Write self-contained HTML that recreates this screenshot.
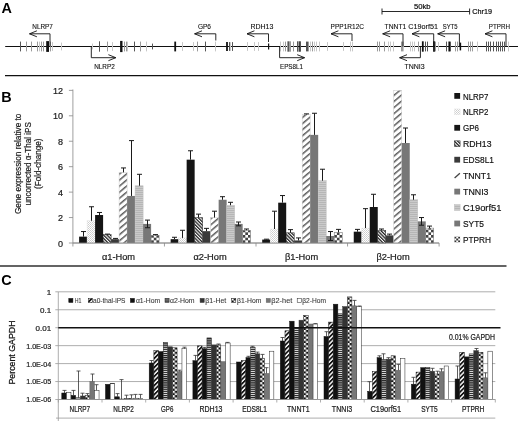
<!DOCTYPE html>
<html><head><meta charset="utf-8"><title>Figure</title>
<style>html,body{margin:0;padding:0;background:#fff}svg{display:block}</style></head>
<body>
<svg width="520" height="421" viewBox="0 0 520 421" font-family="&quot;Liberation Sans&quot;, Arial, sans-serif">
<defs>
<pattern id="pDot" width="2" height="2" patternUnits="userSpaceOnUse"><rect width="2" height="2" fill="#fff"/><rect x="0" y="0" width="1" height="1" fill="#cdcdcd"/><rect x="1" y="1" width="1" height="1" fill="#d6d6d6"/></pattern>
<pattern id="pDense" width="2.4" height="2.4" patternUnits="userSpaceOnUse" patternTransform="rotate(-45)"><rect width="2.4" height="2.4" fill="#fff"/><rect width="1.3" height="2.4" fill="#222"/></pattern>
<pattern id="pWide" width="4.65" height="4.65" patternUnits="userSpaceOnUse" patternTransform="rotate(-40)"><rect width="4.65" height="4.65" fill="#fff"/><rect width="4.65" height="1.5" fill="#5c5c5c"/></pattern>
<pattern id="pWideC" width="3.2" height="3.2" patternUnits="userSpaceOnUse" patternTransform="rotate(-45)"><rect width="3.2" height="3.2" fill="#fff"/><rect width="3.2" height="1.75" fill="#111"/></pattern>
<pattern id="pHzL" width="4" height="2" patternUnits="userSpaceOnUse"><rect width="4" height="2" fill="#cacaca"/><rect width="4" height="1" fill="#b6b6b6"/></pattern>
<pattern id="pHzD" width="4" height="2.1" y="0.1" patternUnits="userSpaceOnUse"><rect width="4" height="2.1" fill="#e4e4e4"/><rect width="4" height="1.25" fill="#1c1c1c"/></pattern>
</defs>
<rect width="520" height="421" fill="#fff"/>
<text x="1.40" y="12.70" font-size="14.4" text-anchor="start" fill="#000" font-weight="bold" >A</text>
<line x1="5.20" y1="46.50" x2="518.00" y2="46.50" stroke="#111" stroke-width="1.2" />
<line x1="5.00" y1="75.60" x2="518.00" y2="75.60" stroke="#111" stroke-width="1.2" />
<line x1="20.50" y1="41.60" x2="20.50" y2="51.40" stroke="#555" stroke-width="1" />
<line x1="26.50" y1="41.60" x2="26.50" y2="51.40" stroke="#9a9a9a" stroke-width="1" />
<line x1="31.50" y1="41.60" x2="31.50" y2="51.40" stroke="#9a9a9a" stroke-width="1" />
<line x1="37.50" y1="41.60" x2="37.50" y2="51.40" stroke="#9a9a9a" stroke-width="1" />
<line x1="39.50" y1="41.60" x2="39.50" y2="51.40" stroke="#c8c8c8" stroke-width="1" />
<line x1="41.50" y1="41.60" x2="41.50" y2="51.40" stroke="#9a9a9a" stroke-width="1" />
<line x1="43.50" y1="41.60" x2="43.50" y2="51.40" stroke="#9a9a9a" stroke-width="1" />
<line x1="47.60" y1="41.10" x2="47.60" y2="51.90" stroke="#111" stroke-width="2.8" />
<line x1="50.50" y1="41.60" x2="50.50" y2="51.40" stroke="#9a9a9a" stroke-width="1" />
<line x1="52.50" y1="42.10" x2="52.50" y2="50.90" stroke="#c8c8c8" stroke-width="1" />
<line x1="61.50" y1="42.60" x2="61.50" y2="50.40" stroke="#c8c8c8" stroke-width="1" />
<line x1="92.50" y1="43.60" x2="92.50" y2="49.40" stroke="#c8c8c8" stroke-width="1" />
<line x1="99.50" y1="41.30" x2="99.50" y2="51.70" stroke="#555" stroke-width="1" />
<line x1="107.50" y1="41.60" x2="107.50" y2="51.40" stroke="#9a9a9a" stroke-width="1" />
<line x1="112.50" y1="42.10" x2="112.50" y2="50.90" stroke="#c8c8c8" stroke-width="1" />
<line x1="121.30" y1="40.90" x2="121.30" y2="52.10" stroke="#111" stroke-width="2.4" />
<line x1="124.50" y1="41.60" x2="124.50" y2="51.40" stroke="#9a9a9a" stroke-width="1" />
<line x1="126.50" y1="41.60" x2="126.50" y2="51.40" stroke="#9a9a9a" stroke-width="1" />
<line x1="127.50" y1="41.60" x2="127.50" y2="51.40" stroke="#c8c8c8" stroke-width="1" />
<line x1="134.50" y1="41.60" x2="134.50" y2="51.40" stroke="#555" stroke-width="1" />
<line x1="140.50" y1="41.60" x2="140.50" y2="51.40" stroke="#9a9a9a" stroke-width="1" />
<line x1="146.50" y1="41.60" x2="146.50" y2="51.40" stroke="#c8c8c8" stroke-width="1" />
<line x1="152.50" y1="43.60" x2="152.50" y2="49.40" stroke="#555" stroke-width="1" />
<line x1="175.20" y1="41.60" x2="175.20" y2="51.40" stroke="#111" stroke-width="1.8" />
<line x1="182.50" y1="42.10" x2="182.50" y2="50.90" stroke="#c8c8c8" stroke-width="1" />
<line x1="193.50" y1="42.10" x2="193.50" y2="50.90" stroke="#c8c8c8" stroke-width="1" />
<line x1="197.50" y1="41.60" x2="197.50" y2="51.40" stroke="#9a9a9a" stroke-width="1" />
<line x1="205.50" y1="41.60" x2="205.50" y2="51.40" stroke="#555" stroke-width="1" />
<line x1="215.50" y1="41.60" x2="215.50" y2="51.40" stroke="#c8c8c8" stroke-width="1" />
<line x1="227.00" y1="41.90" x2="227.00" y2="51.10" stroke="#111" stroke-width="1.8" />
<line x1="229.50" y1="42.10" x2="229.50" y2="50.90" stroke="#555" stroke-width="1" />
<line x1="230.50" y1="42.10" x2="230.50" y2="50.90" stroke="#c8c8c8" stroke-width="1" />
<line x1="232.50" y1="42.10" x2="232.50" y2="50.90" stroke="#555" stroke-width="1" />
<line x1="247.50" y1="42.10" x2="247.50" y2="50.90" stroke="#c8c8c8" stroke-width="1" />
<line x1="254.50" y1="42.10" x2="254.50" y2="50.90" stroke="#c8c8c8" stroke-width="1" />
<line x1="258.50" y1="42.10" x2="258.50" y2="50.90" stroke="#c8c8c8" stroke-width="1" />
<line x1="268.60" y1="43.60" x2="268.60" y2="49.40" stroke="#111" stroke-width="1.2" />
<line x1="280.50" y1="41.60" x2="280.50" y2="51.40" stroke="#c8c8c8" stroke-width="1" />
<line x1="283.50" y1="41.60" x2="283.50" y2="51.40" stroke="#c8c8c8" stroke-width="1" />
<line x1="285.50" y1="41.60" x2="285.50" y2="51.40" stroke="#9a9a9a" stroke-width="1" />
<line x1="287.50" y1="41.30" x2="287.50" y2="51.70" stroke="#9a9a9a" stroke-width="1" />
<line x1="288.50" y1="41.30" x2="288.50" y2="51.70" stroke="#555" stroke-width="1" />
<line x1="289.50" y1="41.30" x2="289.50" y2="51.70" stroke="#9a9a9a" stroke-width="1" />
<line x1="290.50" y1="41.30" x2="290.50" y2="51.70" stroke="#9a9a9a" stroke-width="1" />
<line x1="293.50" y1="41.60" x2="293.50" y2="51.40" stroke="#9a9a9a" stroke-width="1" />
<line x1="297.50" y1="41.30" x2="297.50" y2="51.70" stroke="#555" stroke-width="1" />
<line x1="299.20" y1="41.30" x2="299.20" y2="51.70" stroke="#111" stroke-width="1.2" />
<line x1="300.50" y1="41.30" x2="300.50" y2="51.70" stroke="#555" stroke-width="1" />
<line x1="306.50" y1="41.60" x2="306.50" y2="51.40" stroke="#555" stroke-width="1" />
<line x1="307.50" y1="41.60" x2="307.50" y2="51.40" stroke="#555" stroke-width="1" />
<line x1="308.50" y1="41.60" x2="308.50" y2="51.40" stroke="#9a9a9a" stroke-width="1" />
<line x1="310.50" y1="41.60" x2="310.50" y2="51.40" stroke="#c8c8c8" stroke-width="1" />
<line x1="312.50" y1="41.60" x2="312.50" y2="51.40" stroke="#9a9a9a" stroke-width="1" />
<line x1="314.50" y1="41.60" x2="314.50" y2="51.40" stroke="#c8c8c8" stroke-width="1" />
<line x1="316.50" y1="41.60" x2="316.50" y2="51.40" stroke="#c8c8c8" stroke-width="1" />
<line x1="319.50" y1="41.60" x2="319.50" y2="51.40" stroke="#c8c8c8" stroke-width="1" />
<line x1="327.50" y1="42.10" x2="327.50" y2="50.90" stroke="#c8c8c8" stroke-width="1" />
<line x1="343.50" y1="42.10" x2="343.50" y2="50.90" stroke="#c8c8c8" stroke-width="1" />
<line x1="350.50" y1="41.60" x2="350.50" y2="51.40" stroke="#c8c8c8" stroke-width="1" />
<line x1="352.50" y1="41.60" x2="352.50" y2="51.40" stroke="#c8c8c8" stroke-width="1" />
<line x1="377.50" y1="41.60" x2="377.50" y2="51.40" stroke="#9a9a9a" stroke-width="1" />
<line x1="379.50" y1="41.60" x2="379.50" y2="51.40" stroke="#9a9a9a" stroke-width="1" />
<line x1="384.50" y1="41.60" x2="384.50" y2="51.40" stroke="#9a9a9a" stroke-width="1" />
<line x1="388.50" y1="41.60" x2="388.50" y2="51.40" stroke="#c8c8c8" stroke-width="1" />
<line x1="390.50" y1="41.60" x2="390.50" y2="51.40" stroke="#c8c8c8" stroke-width="1" />
<line x1="393.50" y1="41.60" x2="393.50" y2="51.40" stroke="#c8c8c8" stroke-width="1" />
<line x1="401.50" y1="41.60" x2="401.50" y2="51.40" stroke="#9a9a9a" stroke-width="1" />
<line x1="402.50" y1="41.60" x2="402.50" y2="51.40" stroke="#9a9a9a" stroke-width="1" />
<line x1="403.50" y1="41.60" x2="403.50" y2="51.40" stroke="#c8c8c8" stroke-width="1" />
<line x1="410.50" y1="41.60" x2="410.50" y2="51.40" stroke="#c8c8c8" stroke-width="1" />
<line x1="412.50" y1="41.60" x2="412.50" y2="51.40" stroke="#c8c8c8" stroke-width="1" />
<line x1="414.50" y1="41.60" x2="414.50" y2="51.40" stroke="#c8c8c8" stroke-width="1" />
<line x1="418.50" y1="41.60" x2="418.50" y2="51.40" stroke="#9a9a9a" stroke-width="1" />
<line x1="422.80" y1="41.30" x2="422.80" y2="51.70" stroke="#111" stroke-width="1.8" />
<line x1="425.50" y1="41.60" x2="425.50" y2="51.40" stroke="#555" stroke-width="1" />
<line x1="427.50" y1="41.60" x2="427.50" y2="51.40" stroke="#555" stroke-width="1" />
<line x1="434.00" y1="41.30" x2="434.00" y2="51.70" stroke="#111" stroke-width="1.8" />
<line x1="435.50" y1="41.60" x2="435.50" y2="51.40" stroke="#9a9a9a" stroke-width="1" />
<line x1="438.50" y1="42.10" x2="438.50" y2="50.90" stroke="#c8c8c8" stroke-width="1" />
<line x1="446.50" y1="41.60" x2="446.50" y2="51.40" stroke="#555" stroke-width="1" />
<line x1="449.20" y1="41.60" x2="449.20" y2="51.40" stroke="#111" stroke-width="1.6" />
<line x1="450.50" y1="41.60" x2="450.50" y2="51.40" stroke="#555" stroke-width="1" />
<line x1="455.50" y1="41.60" x2="455.50" y2="51.40" stroke="#9a9a9a" stroke-width="1" />
<line x1="457.50" y1="41.60" x2="457.50" y2="51.40" stroke="#9a9a9a" stroke-width="1" />
<line x1="460.40" y1="42.60" x2="460.40" y2="50.40" stroke="#111" stroke-width="1.5" />
<line x1="468.50" y1="41.60" x2="468.50" y2="51.40" stroke="#9a9a9a" stroke-width="1" />
<line x1="470.50" y1="41.60" x2="470.50" y2="51.40" stroke="#9a9a9a" stroke-width="1" />
<line x1="472.50" y1="41.60" x2="472.50" y2="51.40" stroke="#9a9a9a" stroke-width="1" />
<line x1="477.50" y1="41.60" x2="477.50" y2="51.40" stroke="#c8c8c8" stroke-width="1" />
<line x1="486.50" y1="41.60" x2="486.50" y2="51.40" stroke="#555" stroke-width="1" />
<line x1="488.50" y1="41.60" x2="488.50" y2="51.40" stroke="#555" stroke-width="1" />
<line x1="490.50" y1="41.60" x2="490.50" y2="51.40" stroke="#555" stroke-width="1" />
<line x1="493.50" y1="41.60" x2="493.50" y2="51.40" stroke="#555" stroke-width="1" />
<line x1="496.50" y1="41.60" x2="496.50" y2="51.40" stroke="#555" stroke-width="1" />
<line x1="498.50" y1="41.60" x2="498.50" y2="51.40" stroke="#555" stroke-width="1" />
<line x1="500.50" y1="41.60" x2="500.50" y2="51.40" stroke="#555" stroke-width="1" />
<line x1="502.50" y1="41.60" x2="502.50" y2="51.40" stroke="#555" stroke-width="1" />
<line x1="504.50" y1="41.60" x2="504.50" y2="51.40" stroke="#555" stroke-width="1" />
<line x1="508.50" y1="41.60" x2="508.50" y2="51.40" stroke="#c8c8c8" stroke-width="1" />
<path d="M50.0 46.5V33.8H29.5M36.9 30.8L29.5 33.8L36.9 36.8" fill="none" stroke="#111" stroke-width="0.9"/>
<text x="32.30" y="29.20" font-size="7.9" text-anchor="start" fill="#111" textLength="20.60" lengthAdjust="spacingAndGlyphs" stroke="#111" stroke-width="0.12" >NLRP7</text>
<path d="M91.3 46.5V57.7H115.8M108.4 54.7L115.8 57.7L108.4 60.7" fill="none" stroke="#111" stroke-width="0.9"/>
<text x="94.20" y="69.30" font-size="7.9" text-anchor="start" fill="#111" textLength="20.60" lengthAdjust="spacingAndGlyphs" stroke="#111" stroke-width="0.12" >NLRP2</text>
<path d="M215.8 40.5V33.8H194.6M202.0 30.8L194.6 33.8L202.0 36.8" fill="none" stroke="#111" stroke-width="0.9"/>
<text x="197.90" y="28.80" font-size="7.9" text-anchor="start" fill="#111" textLength="13.10" lengthAdjust="spacingAndGlyphs" stroke="#111" stroke-width="0.12" >GP6</text>
<path d="M268.5 42.0V33.8H247.0M254.4 30.8L247.0 33.8L254.4 36.8" fill="none" stroke="#111" stroke-width="0.9"/>
<text x="250.40" y="28.80" font-size="7.9" text-anchor="start" fill="#111" textLength="22.90" lengthAdjust="spacingAndGlyphs" stroke="#111" stroke-width="0.12" >RDH13</text>
<path d="M279.6 46.5V57.7H304.6M297.2 54.7L304.6 57.7L297.2 60.7" fill="none" stroke="#111" stroke-width="0.9"/>
<text x="280.00" y="69.30" font-size="7.9" text-anchor="start" fill="#111" textLength="23.00" lengthAdjust="spacingAndGlyphs" stroke="#111" stroke-width="0.12" >EPS8L1</text>
<path d="M352.0 41.0V33.8H331.0M338.4 30.8L331.0 33.8L338.4 36.8" fill="none" stroke="#111" stroke-width="0.9"/>
<text x="330.60" y="28.80" font-size="7.9" text-anchor="start" fill="#111" textLength="33.40" lengthAdjust="spacingAndGlyphs" stroke="#111" stroke-width="0.12" >PPP1R12C</text>
<path d="M403.0 46.5V33.8H382.7M390.1 30.8L382.7 33.8L390.1 36.8" fill="none" stroke="#111" stroke-width="0.9"/>
<text x="384.60" y="28.60" font-size="7.9" text-anchor="start" fill="#111" textLength="21.70" lengthAdjust="spacingAndGlyphs" stroke="#111" stroke-width="0.12" >TNNT1</text>
<path d="M433.7 46.5V33.8H412.0M419.4 30.8L412.0 33.8L419.4 36.8" fill="none" stroke="#111" stroke-width="0.9"/>
<text x="408.30" y="28.60" font-size="7.9" text-anchor="start" fill="#111" textLength="29.70" lengthAdjust="spacingAndGlyphs" stroke="#111" stroke-width="0.12" >C19orf51</text>
<path d="M459.4 46.5V33.8H437.7M445.1 30.8L437.7 33.8L445.1 36.8" fill="none" stroke="#111" stroke-width="0.9"/>
<text x="442.70" y="28.60" font-size="7.9" text-anchor="start" fill="#111" textLength="14.80" lengthAdjust="spacingAndGlyphs" stroke="#111" stroke-width="0.12" >SYT5</text>
<path d="M506.0 46.5V33.8H485.0M492.4 30.8L485.0 33.8L492.4 36.8" fill="none" stroke="#111" stroke-width="0.9"/>
<text x="488.80" y="28.60" font-size="7.9" text-anchor="start" fill="#111" textLength="21.20" lengthAdjust="spacingAndGlyphs" stroke="#111" stroke-width="0.12" >PTPRH</text>
<path d="M420.4 46.5V57.7H399.6M407.0 54.7L399.6 57.7L407.0 60.7" fill="none" stroke="#111" stroke-width="0.9"/>
<text x="404.40" y="68.90" font-size="7.9" text-anchor="start" fill="#111" textLength="20.20" lengthAdjust="spacingAndGlyphs" stroke="#111" stroke-width="0.12" >TNNI3</text>
<path d="M382 8.5V14.5M382 11.5H469.6M469.6 8.5V14.5" fill="none" stroke="#111" stroke-width="0.9"/>
<text x="414.00" y="8.70" font-size="7.9" text-anchor="start" fill="#111" textLength="16.60" lengthAdjust="spacingAndGlyphs" stroke="#111" stroke-width="0.22" >50kb</text>
<text x="472.30" y="14.00" font-size="7.9" text-anchor="start" fill="#111" textLength="19.70" lengthAdjust="spacingAndGlyphs" stroke="#111" stroke-width="0.22" >Chr19</text>
<text x="1.20" y="101.90" font-size="14.4" text-anchor="start" fill="#000" font-weight="bold" >B</text>
<line x1="72.90" y1="89.50" x2="72.90" y2="243.00" stroke="#888" stroke-width="0.8" />
<line x1="72.90" y1="243.00" x2="439.10" y2="243.00" stroke="#888" stroke-width="0.8" />
<line x1="68.90" y1="243.00" x2="72.90" y2="243.00" stroke="#888" stroke-width="0.8" />
<text x="63.00" y="246.60" font-size="9.0" text-anchor="end" fill="#222" stroke="#222" stroke-width="0.22" >0</text>
<line x1="68.90" y1="217.56" x2="72.90" y2="217.56" stroke="#888" stroke-width="0.8" />
<text x="63.00" y="221.16" font-size="9.0" text-anchor="end" fill="#222" stroke="#222" stroke-width="0.22" >2</text>
<line x1="68.90" y1="192.12" x2="72.90" y2="192.12" stroke="#888" stroke-width="0.8" />
<text x="63.00" y="195.72" font-size="9.0" text-anchor="end" fill="#222" stroke="#222" stroke-width="0.22" >4</text>
<line x1="68.90" y1="166.68" x2="72.90" y2="166.68" stroke="#888" stroke-width="0.8" />
<text x="63.00" y="170.28" font-size="9.0" text-anchor="end" fill="#222" stroke="#222" stroke-width="0.22" >6</text>
<line x1="68.90" y1="141.24" x2="72.90" y2="141.24" stroke="#888" stroke-width="0.8" />
<text x="63.00" y="144.84" font-size="9.0" text-anchor="end" fill="#222" stroke="#222" stroke-width="0.22" >8</text>
<line x1="68.90" y1="115.80" x2="72.90" y2="115.80" stroke="#888" stroke-width="0.8" />
<text x="63.00" y="119.40" font-size="9.0" text-anchor="end" fill="#222" stroke="#222" stroke-width="0.22" >10</text>
<line x1="68.90" y1="90.36" x2="72.90" y2="90.36" stroke="#888" stroke-width="0.8" />
<text x="63.00" y="93.96" font-size="9.0" text-anchor="end" fill="#222" stroke="#222" stroke-width="0.22" >12</text>
<line x1="72.90" y1="243.00" x2="72.90" y2="246.50" stroke="#888" stroke-width="0.8" />
<line x1="164.45" y1="243.00" x2="164.45" y2="246.50" stroke="#888" stroke-width="0.8" />
<line x1="256.00" y1="243.00" x2="256.00" y2="246.50" stroke="#888" stroke-width="0.8" />
<line x1="347.55" y1="243.00" x2="347.55" y2="246.50" stroke="#888" stroke-width="0.8" />
<line x1="439.10" y1="243.00" x2="439.10" y2="246.50" stroke="#888" stroke-width="0.8" />
<defs><pattern id="pChkL" x="456.25" y="236.55" width="3.900" height="3.900" patternUnits="userSpaceOnUse"><rect width="4.000" height="4.000" fill="#fff"/><rect x="1.950" width="1.950" height="1.950" fill="#333"/><rect y="1.950" width="1.950" height="1.950" fill="#333"/></pattern></defs>
<defs><pattern id="pChk0" x="151.10" y="243.00" width="5.333" height="5.333" patternUnits="userSpaceOnUse"><rect width="5.433" height="5.433" fill="#fff"/><rect x="2.667" width="2.667" height="2.667" fill="#444"/><rect y="2.667" width="2.667" height="2.667" fill="#444"/></pattern></defs>
<rect x="79.10" y="236.64" width="8.00" height="6.36" fill="#151515"/>
<path d="M83.50 236.64V231.55M81.00 231.55H86.00" stroke="#1a1a1a" stroke-width="1" fill="none"/>
<rect x="87.10" y="220.74" width="8.00" height="22.26" fill="url(#pDot)" stroke="#e6e6e6" stroke-width="0.5"/>
<path d="M91.50 220.74V206.75M89.00 206.75H94.00" stroke="#1a1a1a" stroke-width="1" fill="none"/>
<rect x="95.10" y="215.02" width="8.00" height="27.98" fill="#151515"/>
<path d="M99.50 215.02V212.47M97.00 212.47H102.00" stroke="#1a1a1a" stroke-width="1" fill="none"/>
<rect x="103.10" y="234.73" width="8.00" height="8.27" fill="url(#pDense)" stroke="#222" stroke-width="0.5"/>
<path d="M107.50 234.73V234.10M105.00 234.10H110.00" stroke="#1a1a1a" stroke-width="1" fill="none"/>
<rect x="111.10" y="239.18" width="8.00" height="3.82" fill="#3a3a3a"/>
<path d="M115.50 239.18V238.42M113.00 238.42H118.00" stroke="#1a1a1a" stroke-width="1" fill="none"/>
<rect x="119.10" y="172.40" width="8.00" height="70.60" fill="url(#pWide)" stroke="#ccc" stroke-width="0.5"/>
<path d="M123.50 172.40V167.95M121.00 167.95H126.00" stroke="#1a1a1a" stroke-width="1" fill="none"/>
<rect x="127.10" y="195.94" width="8.00" height="47.06" fill="#777"/>
<path d="M131.50 195.94V140.60M129.00 140.60H134.00" stroke="#1a1a1a" stroke-width="1" fill="none"/>
<rect x="135.10" y="185.76" width="8.00" height="57.24" fill="url(#pHzL)" stroke="#c0c0c0" stroke-width="0.5"/>
<path d="M139.50 185.76V174.31M137.00 174.31H142.00" stroke="#1a1a1a" stroke-width="1" fill="none"/>
<rect x="143.10" y="223.92" width="8.00" height="19.08" fill="#777"/>
<path d="M147.50 227.74V220.10M145.00 220.10H150.00M145.00 227.74H150.00" stroke="#1a1a1a" stroke-width="1" fill="none"/>
<rect x="151.10" y="235.37" width="8.00" height="7.63" fill="url(#pChk0)" stroke="#777" stroke-width="0.5"/>
<path d="M155.50 235.37V234.60M153.00 234.60H158.00" stroke="#1a1a1a" stroke-width="1" fill="none"/>
<defs><pattern id="pChk1" x="242.65" y="243.00" width="5.333" height="5.333" patternUnits="userSpaceOnUse"><rect width="5.433" height="5.433" fill="#fff"/><rect x="2.667" width="2.667" height="2.667" fill="#444"/><rect y="2.667" width="2.667" height="2.667" fill="#444"/></pattern></defs>
<rect x="170.65" y="239.18" width="8.00" height="3.82" fill="#151515"/>
<path d="M174.50 239.18V237.28M172.00 237.28H177.00" stroke="#1a1a1a" stroke-width="1" fill="none"/>
<rect x="178.65" y="237.91" width="8.00" height="5.09" fill="url(#pDot)" stroke="#e6e6e6" stroke-width="0.5"/>
<path d="M182.50 237.91V230.28M180.00 230.28H185.00" stroke="#1a1a1a" stroke-width="1" fill="none"/>
<rect x="186.65" y="159.68" width="8.00" height="83.32" fill="#151515"/>
<path d="M190.50 159.68V150.78M188.00 150.78H193.00" stroke="#1a1a1a" stroke-width="1" fill="none"/>
<rect x="194.65" y="217.56" width="8.00" height="25.44" fill="url(#pDense)" stroke="#222" stroke-width="0.5"/>
<path d="M198.50 217.56V214.13M196.00 214.13H201.00" stroke="#1a1a1a" stroke-width="1" fill="none"/>
<rect x="202.65" y="231.17" width="8.00" height="11.83" fill="#3a3a3a"/>
<path d="M206.50 231.17V228.37M204.00 228.37H209.00" stroke="#1a1a1a" stroke-width="1" fill="none"/>
<rect x="210.65" y="217.56" width="8.00" height="25.44" fill="url(#pWide)" stroke="#ccc" stroke-width="0.5"/>
<path d="M214.50 217.56V211.20M212.00 211.20H217.00" stroke="#1a1a1a" stroke-width="1" fill="none"/>
<rect x="218.65" y="199.75" width="8.00" height="43.25" fill="#777"/>
<path d="M222.50 199.75V196.70M220.00 196.70H225.00" stroke="#1a1a1a" stroke-width="1" fill="none"/>
<rect x="226.65" y="205.22" width="8.00" height="37.78" fill="url(#pHzL)" stroke="#c0c0c0" stroke-width="0.5"/>
<path d="M230.50 205.22V202.30M228.00 202.30H233.00" stroke="#1a1a1a" stroke-width="1" fill="none"/>
<rect x="234.65" y="223.92" width="8.00" height="19.08" fill="#777"/>
<path d="M238.50 225.83V222.01M236.00 222.01H241.00M236.00 225.83H241.00" stroke="#1a1a1a" stroke-width="1" fill="none"/>
<rect x="242.65" y="230.28" width="8.00" height="12.72" fill="url(#pChk1)" stroke="#777" stroke-width="0.5"/>
<path d="M246.50 230.28V229.01M244.00 229.01H249.00" stroke="#1a1a1a" stroke-width="1" fill="none"/>
<defs><pattern id="pChk2" x="334.20" y="243.00" width="5.333" height="5.333" patternUnits="userSpaceOnUse"><rect width="5.433" height="5.433" fill="#fff"/><rect x="2.667" width="2.667" height="2.667" fill="#444"/><rect y="2.667" width="2.667" height="2.667" fill="#444"/></pattern></defs>
<rect x="262.20" y="239.57" width="8.00" height="3.43" fill="#151515"/>
<path d="M266.50 239.57V239.18M264.00 239.18H269.00" stroke="#1a1a1a" stroke-width="1" fill="none"/>
<rect x="270.20" y="229.01" width="8.00" height="13.99" fill="url(#pDot)" stroke="#e6e6e6" stroke-width="0.5"/>
<path d="M274.50 229.01V211.20M272.00 211.20H277.00" stroke="#1a1a1a" stroke-width="1" fill="none"/>
<rect x="278.20" y="202.68" width="8.00" height="40.32" fill="#151515"/>
<path d="M282.50 202.68V195.55M280.00 195.55H285.00" stroke="#1a1a1a" stroke-width="1" fill="none"/>
<rect x="286.20" y="232.82" width="8.00" height="10.18" fill="url(#pDense)" stroke="#222" stroke-width="0.5"/>
<path d="M290.50 232.82V229.64M288.00 229.64H293.00" stroke="#1a1a1a" stroke-width="1" fill="none"/>
<rect x="294.20" y="240.46" width="8.00" height="2.54" fill="#3a3a3a"/>
<path d="M298.50 240.46V237.91M296.00 237.91H301.00" stroke="#1a1a1a" stroke-width="1" fill="none"/>
<rect x="302.20" y="114.53" width="8.00" height="128.47" fill="url(#pWide)" stroke="#ccc" stroke-width="0.5"/>
<path d="M306.50 114.53V113.89M304.00 113.89H309.00" stroke="#1a1a1a" stroke-width="1" fill="none"/>
<rect x="310.20" y="134.88" width="8.00" height="108.12" fill="#777"/>
<path d="M314.50 134.88V113.26M312.00 113.26H317.00" stroke="#1a1a1a" stroke-width="1" fill="none"/>
<rect x="318.20" y="180.67" width="8.00" height="62.33" fill="url(#pHzL)" stroke="#c0c0c0" stroke-width="0.5"/>
<path d="M322.50 180.67V169.22M320.00 169.22H325.00" stroke="#1a1a1a" stroke-width="1" fill="none"/>
<rect x="326.20" y="236.00" width="8.00" height="7.00" fill="#777"/>
<path d="M330.50 240.46V231.55M328.00 231.55H333.00M328.00 240.46H333.00" stroke="#1a1a1a" stroke-width="1" fill="none"/>
<rect x="334.20" y="232.44" width="8.00" height="10.56" fill="url(#pChk2)" stroke="#777" stroke-width="0.5"/>
<path d="M338.50 232.44V229.39M336.00 229.39H341.00" stroke="#1a1a1a" stroke-width="1" fill="none"/>
<defs><pattern id="pChk3" x="425.75" y="243.00" width="5.333" height="5.333" patternUnits="userSpaceOnUse"><rect width="5.433" height="5.433" fill="#fff"/><rect x="2.667" width="2.667" height="2.667" fill="#444"/><rect y="2.667" width="2.667" height="2.667" fill="#444"/></pattern></defs>
<rect x="353.75" y="231.68" width="8.00" height="11.32" fill="#151515"/>
<path d="M357.50 231.68V229.39M355.00 229.39H360.00" stroke="#1a1a1a" stroke-width="1" fill="none"/>
<rect x="361.75" y="228.12" width="8.00" height="14.88" fill="url(#pDot)" stroke="#e6e6e6" stroke-width="0.5"/>
<path d="M365.50 228.12V208.66M363.00 208.66H368.00" stroke="#1a1a1a" stroke-width="1" fill="none"/>
<rect x="369.75" y="207.00" width="8.00" height="36.00" fill="#151515"/>
<path d="M373.50 207.00V194.28M371.00 194.28H376.00" stroke="#1a1a1a" stroke-width="1" fill="none"/>
<rect x="377.75" y="230.53" width="8.00" height="12.47" fill="url(#pDense)" stroke="#222" stroke-width="0.5"/>
<path d="M381.50 230.53V229.01M379.00 229.01H384.00" stroke="#1a1a1a" stroke-width="1" fill="none"/>
<rect x="385.75" y="235.37" width="8.00" height="7.63" fill="#3a3a3a"/>
<path d="M389.50 235.37V234.10M387.00 234.10H392.00" stroke="#1a1a1a" stroke-width="1" fill="none"/>
<rect x="393.75" y="90.36" width="8.00" height="152.64" fill="url(#pWide)" stroke="#ccc" stroke-width="0.5"/>
<rect x="401.75" y="143.02" width="8.00" height="99.98" fill="#777"/>
<path d="M405.50 143.02V128.01M403.00 128.01H408.00" stroke="#1a1a1a" stroke-width="1" fill="none"/>
<rect x="409.75" y="199.75" width="8.00" height="43.25" fill="url(#pHzL)" stroke="#c0c0c0" stroke-width="0.5"/>
<path d="M413.50 199.75V194.79M411.00 194.79H416.00" stroke="#1a1a1a" stroke-width="1" fill="none"/>
<rect x="417.75" y="221.38" width="8.00" height="21.62" fill="#777"/>
<path d="M421.50 225.19V217.56M419.00 217.56H424.00M419.00 225.19H424.00" stroke="#1a1a1a" stroke-width="1" fill="none"/>
<rect x="425.75" y="228.12" width="8.00" height="14.88" fill="url(#pChk3)" stroke="#777" stroke-width="0.5"/>
<path d="M429.50 228.12V226.08M427.00 226.08H432.00" stroke="#1a1a1a" stroke-width="1" fill="none"/>
<line x1="72.90" y1="243.00" x2="439.10" y2="243.00" stroke="#888" stroke-width="0.8" />
<text x="118.48" y="260.10" font-size="9.7" text-anchor="middle" fill="#222" textLength="33.20" lengthAdjust="spacingAndGlyphs" stroke="#222" stroke-width="0.22" >α1-Hom</text>
<text x="210.03" y="260.10" font-size="9.7" text-anchor="middle" fill="#222" textLength="33.20" lengthAdjust="spacingAndGlyphs" stroke="#222" stroke-width="0.22" >α2-Hom</text>
<text x="301.57" y="260.10" font-size="9.7" text-anchor="middle" fill="#222" textLength="33.20" lengthAdjust="spacingAndGlyphs" stroke="#222" stroke-width="0.22" >β1-Hom</text>
<text x="393.12" y="260.10" font-size="9.7" text-anchor="middle" fill="#222" textLength="33.20" lengthAdjust="spacingAndGlyphs" stroke="#222" stroke-width="0.22" >β2-Hom</text>
<text transform="translate(21,163.8) rotate(-90)" font-size="8.2" text-anchor="middle" fill="#1a1a1a" stroke="#1a1a1a" stroke-width="0.2" textLength="100.5" lengthAdjust="spacingAndGlyphs">Gene expression relative to</text>
<text transform="translate(30.8,163.8) rotate(-90)" font-size="8.2" text-anchor="middle" fill="#1a1a1a" stroke="#1a1a1a" stroke-width="0.2" textLength="83.6" lengthAdjust="spacingAndGlyphs">uncorrected α-Thal iPS</text>
<text transform="translate(40.5,163.8) rotate(-90)" font-size="8.2" text-anchor="middle" fill="#1a1a1a" stroke="#1a1a1a" stroke-width="0.2" textLength="50.4" lengthAdjust="spacingAndGlyphs">(Fold-change)</text>
<rect x="454.30" y="93.00" width="5.80" height="5.80" fill="#151515"/>
<text x="463.00" y="99.50" font-size="9.8" text-anchor="start" fill="#111" textLength="25.50" lengthAdjust="spacingAndGlyphs" stroke="#111" stroke-width="0.18" >NLRP7</text>
<rect x="454.30" y="108.95" width="5.80" height="5.80" fill="url(#pDot)" stroke="#e6e6e6" stroke-width="0.5"/>
<text x="463.00" y="115.45" font-size="9.8" text-anchor="start" fill="#111" textLength="25.50" lengthAdjust="spacingAndGlyphs" stroke="#111" stroke-width="0.18" >NLRP2</text>
<rect x="454.30" y="124.90" width="5.80" height="5.80" fill="#151515"/>
<text x="463.00" y="131.40" font-size="9.8" text-anchor="start" fill="#111" textLength="16.00" lengthAdjust="spacingAndGlyphs" stroke="#111" stroke-width="0.18" >GP6</text>
<rect x="454.30" y="140.85" width="5.80" height="5.80" fill="url(#pDense)" stroke="#222" stroke-width="0.5"/>
<text x="463.00" y="147.35" font-size="9.8" text-anchor="start" fill="#111" textLength="28.50" lengthAdjust="spacingAndGlyphs" stroke="#111" stroke-width="0.18" >RDH13</text>
<rect x="454.30" y="156.80" width="5.80" height="5.80" fill="#3a3a3a"/>
<text x="463.00" y="163.30" font-size="9.8" text-anchor="start" fill="#111" textLength="31.00" lengthAdjust="spacingAndGlyphs" stroke="#111" stroke-width="0.18" >EDS8L1</text>
<line x1="454.60" y1="178.05" x2="459.90" y2="173.15" stroke="#444" stroke-width="1.3" />
<text x="463.00" y="179.25" font-size="9.8" text-anchor="start" fill="#111" textLength="28.00" lengthAdjust="spacingAndGlyphs" stroke="#111" stroke-width="0.18" >TNNT1</text>
<rect x="454.30" y="188.70" width="5.80" height="5.80" fill="#777"/>
<text x="463.00" y="195.20" font-size="9.8" text-anchor="start" fill="#111" textLength="25.50" lengthAdjust="spacingAndGlyphs" stroke="#111" stroke-width="0.18" >TNNI3</text>
<rect x="454.30" y="204.65" width="5.80" height="5.80" fill="url(#pHzL)" stroke="#c0c0c0" stroke-width="0.5"/>
<text x="463.00" y="211.15" font-size="9.8" text-anchor="start" fill="#111" textLength="38.50" lengthAdjust="spacingAndGlyphs" stroke="#111" stroke-width="0.18" >C19orf51</text>
<rect x="454.30" y="220.60" width="5.80" height="5.80" fill="#777"/>
<text x="463.00" y="227.10" font-size="9.8" text-anchor="start" fill="#111" textLength="21.00" lengthAdjust="spacingAndGlyphs" stroke="#111" stroke-width="0.18" >SYT5</text>
<rect x="454.30" y="236.55" width="5.85" height="5.85" fill="url(#pChkL)"/>
<text x="463.00" y="243.05" font-size="9.8" text-anchor="start" fill="#111" textLength="28.00" lengthAdjust="spacingAndGlyphs" stroke="#111" stroke-width="0.18" >PTPRH</text>
<line x1="0.00" y1="266.00" x2="506.50" y2="266.00" stroke="#646464" stroke-width="2.2" />
<text x="1.20" y="284.50" font-size="14.4" text-anchor="start" fill="#000" font-weight="bold" >C</text>
<line x1="58.30" y1="399.50" x2="495.30" y2="399.50" stroke="#999" stroke-width="0.8" />
<line x1="58.30" y1="381.55" x2="495.30" y2="381.55" stroke="#999" stroke-width="0.8" />
<line x1="58.30" y1="363.60" x2="495.30" y2="363.60" stroke="#999" stroke-width="0.8" />
<line x1="58.30" y1="345.65" x2="495.30" y2="345.65" stroke="#999" stroke-width="0.8" />
<line x1="58.30" y1="309.75" x2="495.30" y2="309.75" stroke="#999" stroke-width="0.8" />
<line x1="58.30" y1="291.80" x2="495.30" y2="291.80" stroke="#999" stroke-width="0.8" />
<line x1="58.30" y1="291.80" x2="58.30" y2="421.00" stroke="#999" stroke-width="0.8" />
<line x1="56.00" y1="418.10" x2="495.30" y2="418.10" stroke="#999" stroke-width="0.8" />
<line x1="55.30" y1="399.50" x2="58.30" y2="399.50" stroke="#999" stroke-width="0.8" />
<text x="51.20" y="402.40" font-size="8" text-anchor="end" fill="#222" textLength="25.00" lengthAdjust="spacingAndGlyphs" stroke="#222" stroke-width="0.22" >1.0E-06</text>
<line x1="55.30" y1="381.55" x2="58.30" y2="381.55" stroke="#999" stroke-width="0.8" />
<text x="51.20" y="384.45" font-size="8" text-anchor="end" fill="#222" textLength="25.00" lengthAdjust="spacingAndGlyphs" stroke="#222" stroke-width="0.22" >1.0E-05</text>
<line x1="55.30" y1="363.60" x2="58.30" y2="363.60" stroke="#999" stroke-width="0.8" />
<text x="51.20" y="366.50" font-size="8" text-anchor="end" fill="#222" textLength="25.00" lengthAdjust="spacingAndGlyphs" stroke="#222" stroke-width="0.22" >1.0E-04</text>
<line x1="55.30" y1="345.65" x2="58.30" y2="345.65" stroke="#999" stroke-width="0.8" />
<text x="51.20" y="348.55" font-size="8" text-anchor="end" fill="#222" textLength="25.00" lengthAdjust="spacingAndGlyphs" stroke="#222" stroke-width="0.22" >1.0E-03</text>
<line x1="55.30" y1="327.70" x2="58.30" y2="327.70" stroke="#999" stroke-width="0.8" />
<text x="51.20" y="330.60" font-size="8" text-anchor="end" fill="#222" stroke="#222" stroke-width="0.22" >0.01</text>
<line x1="55.30" y1="309.75" x2="58.30" y2="309.75" stroke="#999" stroke-width="0.8" />
<text x="51.20" y="312.65" font-size="8" text-anchor="end" fill="#222" stroke="#222" stroke-width="0.22" >0.1</text>
<line x1="55.30" y1="291.80" x2="58.30" y2="291.80" stroke="#999" stroke-width="0.8" />
<text x="51.20" y="294.70" font-size="8" text-anchor="end" fill="#222" stroke="#222" stroke-width="0.22" >1</text>
<defs><pattern id="pChkC0" x="85.20" y="399.50" width="4.480" height="4.340" patternUnits="userSpaceOnUse"><rect width="4.580" height="4.440" fill="#fff"/><rect x="2.240" width="2.240" height="2.170" fill="#111"/><rect y="2.170" width="2.240" height="2.170" fill="#111"/></pattern></defs>
<rect x="61.80" y="393.00" width="4.48" height="6.50" fill="#111" stroke="#111" stroke-width="0.5"/>
<path d="M64.50 393.00V390.40M62.50 390.40H66.50" stroke="#333" stroke-width="0.8" fill="none"/>
<rect x="66.48" y="392.40" width="4.48" height="7.10" fill="#fff" stroke="#111" stroke-width="0.5"/>
<rect x="71.16" y="395.40" width="4.48" height="4.10" fill="#111" stroke="#111" stroke-width="0.5"/>
<path d="M73.50 395.40V390.40M71.50 390.40H75.50" stroke="#333" stroke-width="0.8" fill="none"/>
<rect x="75.84" y="397.80" width="4.48" height="1.70" fill="url(#pHzD)" stroke="#222" stroke-width="0.5"/>
<path d="M78.50 397.80V371.00M76.50 371.00H80.50" stroke="#333" stroke-width="0.8" fill="none"/>
<rect x="80.52" y="396.00" width="4.48" height="3.50" fill="#333" stroke="#333" stroke-width="0.5"/>
<path d="M82.50 396.00V393.20M80.50 393.20H84.50" stroke="#333" stroke-width="0.8" fill="none"/>
<rect x="85.20" y="395.40" width="4.48" height="4.10" fill="url(#pChkC0)" stroke="#222" stroke-width="0.5"/>
<path d="M87.50 395.40V393.60M85.50 393.60H89.50" stroke="#333" stroke-width="0.8" fill="none"/>
<rect x="89.88" y="381.40" width="4.48" height="18.10" fill="#777" stroke="#666" stroke-width="0.5"/>
<path d="M92.50 381.40V374.00M90.50 374.00H94.50" stroke="#333" stroke-width="0.8" fill="none"/>
<rect x="94.56" y="390.30" width="4.48" height="9.20" fill="#fff" stroke="#222" stroke-width="0.5"/>
<path d="M96.50 390.30V384.70M94.50 384.70H98.50" stroke="#333" stroke-width="0.8" fill="none"/>
<defs><pattern id="pChkC1" x="128.90" y="399.50" width="4.480" height="4.340" patternUnits="userSpaceOnUse"><rect width="4.580" height="4.440" fill="#fff"/><rect x="2.240" width="2.240" height="2.170" fill="#111"/><rect y="2.170" width="2.240" height="2.170" fill="#111"/></pattern></defs>
<rect x="105.50" y="384.30" width="4.48" height="15.20" fill="#111" stroke="#111" stroke-width="0.5"/>
<rect x="110.18" y="383.50" width="4.48" height="16.00" fill="#fff" stroke="#111" stroke-width="0.5"/>
<path d="M112.50 383.50V383.50M110.50 383.50H114.50" stroke="#333" stroke-width="0.8" fill="none"/>
<rect x="114.86" y="396.80" width="4.48" height="2.70" fill="#111" stroke="#111" stroke-width="0.5"/>
<path d="M117.50 396.80V393.60M115.50 393.60H119.50" stroke="#333" stroke-width="0.8" fill="none"/>
<rect x="119.54" y="399.00" width="4.48" height="0.50" fill="url(#pHzD)" stroke="#222" stroke-width="0.5"/>
<path d="M121.50 399.00V379.60M119.50 379.60H123.50" stroke="#333" stroke-width="0.8" fill="none"/>
<rect x="124.22" y="398.60" width="4.48" height="0.90" fill="#333" stroke="#333" stroke-width="0.5"/>
<path d="M126.50 398.60V395.20M124.50 395.20H128.50" stroke="#333" stroke-width="0.8" fill="none"/>
<rect x="128.90" y="398.40" width="4.48" height="1.10" fill="url(#pChkC1)" stroke="#222" stroke-width="0.5"/>
<path d="M131.50 398.40V394.80M129.50 394.80H133.50" stroke="#333" stroke-width="0.8" fill="none"/>
<rect x="133.58" y="398.20" width="4.48" height="1.30" fill="#777" stroke="#666" stroke-width="0.5"/>
<path d="M135.50 398.20V394.40M133.50 394.40H137.50" stroke="#333" stroke-width="0.8" fill="none"/>
<rect x="138.26" y="398.40" width="4.48" height="1.10" fill="#fff" stroke="#222" stroke-width="0.5"/>
<path d="M140.50 398.40V394.40M138.50 394.40H142.50" stroke="#333" stroke-width="0.8" fill="none"/>
<defs><pattern id="pChkC2" x="172.60" y="399.50" width="4.480" height="4.340" patternUnits="userSpaceOnUse"><rect width="4.580" height="4.440" fill="#fff"/><rect x="2.240" width="2.240" height="2.170" fill="#111"/><rect y="2.170" width="2.240" height="2.170" fill="#111"/></pattern></defs>
<rect x="149.20" y="363.00" width="4.48" height="36.50" fill="#111" stroke="#111" stroke-width="0.5"/>
<path d="M151.50 363.00V360.50M149.50 360.50H153.50" stroke="#333" stroke-width="0.8" fill="none"/>
<rect x="153.88" y="350.60" width="4.48" height="48.90" fill="url(#pWideC)" stroke="#111" stroke-width="0.5"/>
<rect x="158.56" y="351.60" width="4.48" height="47.90" fill="#111" stroke="#111" stroke-width="0.5"/>
<rect x="163.24" y="342.50" width="4.48" height="57.00" fill="url(#pHzD)" stroke="#222" stroke-width="0.5"/>
<rect x="167.92" y="346.80" width="4.48" height="52.70" fill="#333" stroke="#333" stroke-width="0.5"/>
<rect x="172.60" y="347.80" width="4.48" height="51.70" fill="url(#pChkC2)" stroke="#222" stroke-width="0.5"/>
<rect x="177.28" y="371.50" width="4.48" height="28.00" fill="#777" stroke="#666" stroke-width="0.5"/>
<path d="M179.50 371.50V370.20M177.50 370.20H181.50" stroke="#333" stroke-width="0.8" fill="none"/>
<rect x="181.96" y="348.70" width="4.48" height="50.80" fill="#fff" stroke="#222" stroke-width="0.5"/>
<path d="M184.50 348.70V347.20M182.50 347.20H186.50" stroke="#333" stroke-width="0.8" fill="none"/>
<defs><pattern id="pChkC3" x="216.30" y="399.50" width="4.480" height="4.340" patternUnits="userSpaceOnUse"><rect width="4.580" height="4.440" fill="#fff"/><rect x="2.240" width="2.240" height="2.170" fill="#111"/><rect y="2.170" width="2.240" height="2.170" fill="#111"/></pattern></defs>
<rect x="192.90" y="360.70" width="4.48" height="38.80" fill="#111" stroke="#111" stroke-width="0.5"/>
<path d="M195.50 360.70V355.40M193.50 355.40H197.50" stroke="#333" stroke-width="0.8" fill="none"/>
<rect x="197.58" y="345.90" width="4.48" height="53.60" fill="url(#pWideC)" stroke="#111" stroke-width="0.5"/>
<rect x="202.26" y="348.70" width="4.48" height="50.80" fill="#111" stroke="#111" stroke-width="0.5"/>
<path d="M204.50 348.70V347.40M202.50 347.40H206.50" stroke="#333" stroke-width="0.8" fill="none"/>
<rect x="206.94" y="337.90" width="4.48" height="61.60" fill="url(#pHzD)" stroke="#222" stroke-width="0.5"/>
<rect x="211.62" y="344.90" width="4.48" height="54.60" fill="#333" stroke="#333" stroke-width="0.5"/>
<rect x="216.30" y="344.90" width="4.48" height="54.60" fill="url(#pChkC3)" stroke="#222" stroke-width="0.5"/>
<path d="M218.50 344.90V344.00M216.50 344.00H220.50" stroke="#333" stroke-width="0.8" fill="none"/>
<rect x="220.98" y="361.60" width="4.48" height="37.90" fill="#777" stroke="#666" stroke-width="0.5"/>
<rect x="225.66" y="343.00" width="4.48" height="56.50" fill="#fff" stroke="#222" stroke-width="0.5"/>
<path d="M227.50 343.00V342.40M225.50 342.40H229.50" stroke="#333" stroke-width="0.8" fill="none"/>
<defs><pattern id="pChkC4" x="260.00" y="399.50" width="4.480" height="4.340" patternUnits="userSpaceOnUse"><rect width="4.580" height="4.440" fill="#fff"/><rect x="2.240" width="2.240" height="2.170" fill="#111"/><rect y="2.170" width="2.240" height="2.170" fill="#111"/></pattern></defs>
<rect x="236.60" y="362.00" width="4.48" height="37.50" fill="#111" stroke="#111" stroke-width="0.5"/>
<rect x="241.28" y="360.70" width="4.48" height="38.80" fill="url(#pWideC)" stroke="#111" stroke-width="0.5"/>
<rect x="245.96" y="357.60" width="4.48" height="41.90" fill="#111" stroke="#111" stroke-width="0.5"/>
<path d="M248.50 357.60V356.30M246.50 356.30H250.50" stroke="#333" stroke-width="0.8" fill="none"/>
<rect x="250.64" y="347.40" width="4.48" height="52.10" fill="url(#pHzD)" stroke="#222" stroke-width="0.5"/>
<path d="M252.50 347.40V346.30M250.50 346.30H254.50" stroke="#333" stroke-width="0.8" fill="none"/>
<rect x="255.32" y="353.80" width="4.48" height="45.70" fill="#333" stroke="#333" stroke-width="0.5"/>
<path d="M257.50 353.80V352.10M255.50 352.10H259.50" stroke="#333" stroke-width="0.8" fill="none"/>
<rect x="260.00" y="358.20" width="4.48" height="41.30" fill="url(#pChkC4)" stroke="#222" stroke-width="0.5"/>
<path d="M262.50 358.20V354.40M260.50 354.40H264.50" stroke="#333" stroke-width="0.8" fill="none"/>
<rect x="264.68" y="373.40" width="4.48" height="26.10" fill="#777" stroke="#666" stroke-width="0.5"/>
<path d="M266.50 373.40V367.70M264.50 367.70H268.50" stroke="#333" stroke-width="0.8" fill="none"/>
<rect x="269.36" y="351.20" width="4.48" height="48.30" fill="#fff" stroke="#222" stroke-width="0.5"/>
<defs><pattern id="pChkC5" x="303.70" y="399.50" width="4.480" height="4.340" patternUnits="userSpaceOnUse"><rect width="4.580" height="4.440" fill="#fff"/><rect x="2.240" width="2.240" height="2.170" fill="#111"/><rect y="2.170" width="2.240" height="2.170" fill="#111"/></pattern></defs>
<rect x="280.30" y="341.00" width="4.48" height="58.50" fill="#111" stroke="#111" stroke-width="0.5"/>
<path d="M282.50 341.00V337.50M280.50 337.50H284.50" stroke="#333" stroke-width="0.8" fill="none"/>
<rect x="284.98" y="330.80" width="4.48" height="68.70" fill="url(#pWideC)" stroke="#111" stroke-width="0.5"/>
<rect x="289.66" y="321.20" width="4.48" height="78.30" fill="#111" stroke="#111" stroke-width="0.5"/>
<rect x="294.34" y="327.70" width="4.48" height="71.80" fill="url(#pHzD)" stroke="#222" stroke-width="0.5"/>
<rect x="299.02" y="320.20" width="4.48" height="79.30" fill="#333" stroke="#333" stroke-width="0.5"/>
<rect x="303.70" y="315.40" width="4.48" height="84.10" fill="url(#pChkC5)" stroke="#222" stroke-width="0.5"/>
<rect x="308.38" y="324.00" width="4.48" height="75.50" fill="#777" stroke="#666" stroke-width="0.5"/>
<rect x="313.06" y="324.00" width="4.48" height="75.50" fill="#fff" stroke="#222" stroke-width="0.5"/>
<path d="M315.50 324.00V323.60M313.50 323.60H317.50" stroke="#333" stroke-width="0.8" fill="none"/>
<defs><pattern id="pChkC6" x="347.40" y="399.50" width="4.480" height="4.340" patternUnits="userSpaceOnUse"><rect width="4.580" height="4.440" fill="#fff"/><rect x="2.240" width="2.240" height="2.170" fill="#111"/><rect y="2.170" width="2.240" height="2.170" fill="#111"/></pattern></defs>
<rect x="324.00" y="336.50" width="4.48" height="63.00" fill="#111" stroke="#111" stroke-width="0.5"/>
<path d="M326.50 336.50V331.70M324.50 331.70H328.50" stroke="#333" stroke-width="0.8" fill="none"/>
<rect x="328.68" y="322.10" width="4.48" height="77.40" fill="url(#pWideC)" stroke="#111" stroke-width="0.5"/>
<rect x="333.36" y="304.20" width="4.48" height="95.30" fill="#111" stroke="#111" stroke-width="0.5"/>
<rect x="338.04" y="313.80" width="4.48" height="85.70" fill="url(#pHzD)" stroke="#222" stroke-width="0.5"/>
<rect x="342.72" y="306.60" width="4.48" height="92.90" fill="#333" stroke="#333" stroke-width="0.5"/>
<rect x="347.40" y="296.90" width="4.48" height="102.60" fill="url(#pChkC6)" stroke="#222" stroke-width="0.5"/>
<rect x="352.08" y="305.80" width="4.48" height="93.70" fill="#777" stroke="#666" stroke-width="0.5"/>
<path d="M354.50 305.80V300.40M352.50 300.40H356.50" stroke="#333" stroke-width="0.8" fill="none"/>
<rect x="356.76" y="306.60" width="4.48" height="92.90" fill="#fff" stroke="#222" stroke-width="0.5"/>
<path d="M359.50 306.60V306.00M357.50 306.00H361.50" stroke="#333" stroke-width="0.8" fill="none"/>
<defs><pattern id="pChkC7" x="391.10" y="399.50" width="4.480" height="4.340" patternUnits="userSpaceOnUse"><rect width="4.580" height="4.440" fill="#fff"/><rect x="2.240" width="2.240" height="2.170" fill="#111"/><rect y="2.170" width="2.240" height="2.170" fill="#111"/></pattern></defs>
<rect x="367.70" y="391.30" width="4.48" height="8.20" fill="#111" stroke="#111" stroke-width="0.5"/>
<path d="M369.50 391.30V381.70M367.50 381.70H371.50" stroke="#333" stroke-width="0.8" fill="none"/>
<rect x="372.38" y="371.70" width="4.48" height="27.80" fill="url(#pWideC)" stroke="#111" stroke-width="0.5"/>
<rect x="377.06" y="357.70" width="4.48" height="41.80" fill="#111" stroke="#111" stroke-width="0.5"/>
<path d="M379.50 357.70V355.80M377.50 355.80H381.50" stroke="#333" stroke-width="0.8" fill="none"/>
<rect x="381.74" y="359.60" width="4.48" height="39.90" fill="url(#pHzD)" stroke="#222" stroke-width="0.5"/>
<path d="M383.50 359.60V353.80M381.50 353.80H385.50" stroke="#333" stroke-width="0.8" fill="none"/>
<rect x="386.42" y="359.20" width="4.48" height="40.30" fill="#333" stroke="#333" stroke-width="0.5"/>
<path d="M388.50 359.20V357.70M386.50 357.70H390.50" stroke="#333" stroke-width="0.8" fill="none"/>
<rect x="391.10" y="355.80" width="4.48" height="43.70" fill="url(#pChkC7)" stroke="#222" stroke-width="0.5"/>
<rect x="395.78" y="370.20" width="4.48" height="29.30" fill="#777" stroke="#666" stroke-width="0.5"/>
<path d="M398.50 370.20V364.40M396.50 364.40H400.50" stroke="#333" stroke-width="0.8" fill="none"/>
<rect x="400.46" y="358.70" width="4.48" height="40.80" fill="#fff" stroke="#222" stroke-width="0.5"/>
<defs><pattern id="pChkC8" x="434.80" y="399.50" width="4.480" height="4.340" patternUnits="userSpaceOnUse"><rect width="4.580" height="4.440" fill="#fff"/><rect x="2.240" width="2.240" height="2.170" fill="#111"/><rect y="2.170" width="2.240" height="2.170" fill="#111"/></pattern></defs>
<rect x="411.40" y="384.20" width="4.48" height="15.30" fill="#111" stroke="#111" stroke-width="0.5"/>
<path d="M413.50 384.20V377.30M411.50 377.30H415.50" stroke="#333" stroke-width="0.8" fill="none"/>
<rect x="416.08" y="372.10" width="4.48" height="27.40" fill="url(#pWideC)" stroke="#111" stroke-width="0.5"/>
<rect x="420.76" y="367.70" width="4.48" height="31.80" fill="#111" stroke="#111" stroke-width="0.5"/>
<rect x="425.44" y="367.30" width="4.48" height="32.20" fill="url(#pHzD)" stroke="#222" stroke-width="0.5"/>
<rect x="430.12" y="371.20" width="4.48" height="28.30" fill="#333" stroke="#333" stroke-width="0.5"/>
<path d="M432.50 371.20V368.30M430.50 368.30H434.50" stroke="#333" stroke-width="0.8" fill="none"/>
<rect x="434.80" y="374.00" width="4.48" height="25.50" fill="url(#pChkC8)" stroke="#222" stroke-width="0.5"/>
<path d="M437.50 374.00V371.20M435.50 371.20H439.50" stroke="#333" stroke-width="0.8" fill="none"/>
<rect x="439.48" y="371.70" width="4.48" height="27.80" fill="#777" stroke="#666" stroke-width="0.5"/>
<path d="M441.50 371.70V368.80M439.50 368.80H443.50" stroke="#333" stroke-width="0.8" fill="none"/>
<rect x="444.16" y="366.00" width="4.48" height="33.50" fill="#fff" stroke="#222" stroke-width="0.5"/>
<defs><pattern id="pChkC9" x="478.50" y="399.50" width="4.480" height="4.340" patternUnits="userSpaceOnUse"><rect width="4.580" height="4.440" fill="#fff"/><rect x="2.240" width="2.240" height="2.170" fill="#111"/><rect y="2.170" width="2.240" height="2.170" fill="#111"/></pattern></defs>
<rect x="455.10" y="379.00" width="4.48" height="20.50" fill="#111" stroke="#111" stroke-width="0.5"/>
<path d="M457.50 379.00V366.00M455.50 366.00H459.50" stroke="#333" stroke-width="0.8" fill="none"/>
<rect x="459.78" y="352.30" width="4.48" height="47.20" fill="url(#pWideC)" stroke="#111" stroke-width="0.5"/>
<rect x="464.46" y="356.90" width="4.48" height="42.60" fill="#111" stroke="#111" stroke-width="0.5"/>
<rect x="469.14" y="353.90" width="4.48" height="45.60" fill="url(#pHzD)" stroke="#222" stroke-width="0.5"/>
<rect x="473.82" y="350.70" width="4.48" height="48.80" fill="#333" stroke="#333" stroke-width="0.5"/>
<path d="M476.50 350.70V348.50M474.50 348.50H478.50" stroke="#333" stroke-width="0.8" fill="none"/>
<rect x="478.50" y="352.30" width="4.48" height="47.20" fill="url(#pChkC9)" stroke="#222" stroke-width="0.5"/>
<rect x="483.18" y="377.80" width="4.48" height="21.70" fill="#777" stroke="#666" stroke-width="0.5"/>
<path d="M485.50 377.80V372.80M483.50 372.80H487.50" stroke="#333" stroke-width="0.8" fill="none"/>
<rect x="487.86" y="351.20" width="4.48" height="48.30" fill="#fff" stroke="#222" stroke-width="0.5"/>
<line x1="58.30" y1="399.50" x2="495.30" y2="399.50" stroke="#999" stroke-width="0.8" />
<line x1="58.30" y1="399.50" x2="58.30" y2="402.50" stroke="#999" stroke-width="0.8" />
<line x1="102.00" y1="399.50" x2="102.00" y2="402.50" stroke="#999" stroke-width="0.8" />
<line x1="145.70" y1="399.50" x2="145.70" y2="402.50" stroke="#999" stroke-width="0.8" />
<line x1="189.40" y1="399.50" x2="189.40" y2="402.50" stroke="#999" stroke-width="0.8" />
<line x1="233.10" y1="399.50" x2="233.10" y2="402.50" stroke="#999" stroke-width="0.8" />
<line x1="276.80" y1="399.50" x2="276.80" y2="402.50" stroke="#999" stroke-width="0.8" />
<line x1="320.50" y1="399.50" x2="320.50" y2="402.50" stroke="#999" stroke-width="0.8" />
<line x1="364.20" y1="399.50" x2="364.20" y2="402.50" stroke="#999" stroke-width="0.8" />
<line x1="407.90" y1="399.50" x2="407.90" y2="402.50" stroke="#999" stroke-width="0.8" />
<line x1="451.60" y1="399.50" x2="451.60" y2="402.50" stroke="#999" stroke-width="0.8" />
<line x1="495.30" y1="399.50" x2="495.30" y2="402.50" stroke="#999" stroke-width="0.8" />
<line x1="58.30" y1="327.70" x2="500.50" y2="327.70" stroke="#111" stroke-width="1.6" />
<text x="79.85" y="412.40" font-size="8.2" text-anchor="middle" fill="#222" textLength="20.50" lengthAdjust="spacingAndGlyphs" stroke="#222" stroke-width="0.22" >NLRP7</text>
<text x="123.55" y="412.40" font-size="8.2" text-anchor="middle" fill="#222" textLength="20.50" lengthAdjust="spacingAndGlyphs" stroke="#222" stroke-width="0.22" >NLRP2</text>
<text x="167.25" y="412.40" font-size="8.2" text-anchor="middle" fill="#222" textLength="12.30" lengthAdjust="spacingAndGlyphs" stroke="#222" stroke-width="0.22" >GP6</text>
<text x="210.95" y="412.40" font-size="8.2" text-anchor="middle" fill="#222" textLength="23.06" lengthAdjust="spacingAndGlyphs" stroke="#222" stroke-width="0.22" >RDH13</text>
<text x="254.65" y="412.40" font-size="8.2" text-anchor="middle" fill="#222" textLength="24.60" lengthAdjust="spacingAndGlyphs" stroke="#222" stroke-width="0.22" >EDS8L1</text>
<text x="298.35" y="412.40" font-size="8.2" text-anchor="middle" fill="#222" textLength="22.55" lengthAdjust="spacingAndGlyphs" stroke="#222" stroke-width="0.22" >TNNT1</text>
<text x="342.05" y="412.40" font-size="8.2" text-anchor="middle" fill="#222" textLength="20.50" lengthAdjust="spacingAndGlyphs" stroke="#222" stroke-width="0.22" >TNNI3</text>
<text x="385.75" y="412.40" font-size="8.2" text-anchor="middle" fill="#222" textLength="30.75" lengthAdjust="spacingAndGlyphs" stroke="#222" stroke-width="0.22" >C19orf51</text>
<text x="429.45" y="412.40" font-size="8.2" text-anchor="middle" fill="#222" textLength="16.40" lengthAdjust="spacingAndGlyphs" stroke="#222" stroke-width="0.22" >SYT5</text>
<text x="473.15" y="412.40" font-size="8.2" text-anchor="middle" fill="#222" textLength="22.55" lengthAdjust="spacingAndGlyphs" stroke="#222" stroke-width="0.22" >PTPRH</text>
<text x="449.00" y="339.50" font-size="8.2" text-anchor="start" fill="#222" textLength="46.00" lengthAdjust="spacingAndGlyphs" stroke="#222" stroke-width="0.22" >0.01% GAPDH</text>
<text transform="translate(15.1,352.5) rotate(-90)" font-size="9.4" text-anchor="middle" fill="#111" stroke="#111" stroke-width="0.25" textLength="64" lengthAdjust="spacingAndGlyphs">Percent GAPDH</text>
<defs><pattern id="pChkCL" x="231.70" y="298.40" width="4.100" height="4.100" patternUnits="userSpaceOnUse"><rect width="4.200" height="4.200" fill="#fff"/><rect x="2.050" width="2.050" height="2.050" fill="#111"/><rect y="2.050" width="2.050" height="2.050" fill="#111"/></pattern></defs>
<rect x="68.80" y="298.40" width="4.10" height="4.10" fill="#111" stroke="#111" stroke-width="0.5"/>
<text x="74.80" y="303.00" font-size="7.3" text-anchor="start" fill="#3a3a3a" textLength="6.70" lengthAdjust="spacingAndGlyphs" stroke="#3a3a3a" stroke-width="0.1" >H1</text>
<rect x="88.30" y="298.40" width="4.10" height="4.10" fill="url(#pWideC)" stroke="#111" stroke-width="0.5"/>
<text x="93.10" y="303.00" font-size="7.3" text-anchor="start" fill="#3a3a3a" textLength="32.30" lengthAdjust="spacingAndGlyphs" stroke="#3a3a3a" stroke-width="0.1" >a0-thal-iPS</text>
<rect x="130.40" y="298.40" width="4.10" height="4.10" fill="#111" stroke="#111" stroke-width="0.5"/>
<text x="135.90" y="303.00" font-size="7.3" text-anchor="start" fill="#3a3a3a" textLength="24.30" lengthAdjust="spacingAndGlyphs" stroke="#3a3a3a" stroke-width="0.1" >α1-Hom</text>
<rect x="165.00" y="298.40" width="4.10" height="4.10" fill="url(#pHzD)" stroke="#222" stroke-width="0.5"/>
<text x="169.90" y="303.00" font-size="7.3" text-anchor="start" fill="#3a3a3a" textLength="24.70" lengthAdjust="spacingAndGlyphs" stroke="#3a3a3a" stroke-width="0.1" >α2-Hom</text>
<rect x="200.10" y="298.40" width="4.10" height="4.10" fill="#333" stroke="#333" stroke-width="0.5"/>
<text x="205.30" y="303.00" font-size="7.3" text-anchor="start" fill="#3a3a3a" textLength="21.00" lengthAdjust="spacingAndGlyphs" stroke="#3a3a3a" stroke-width="0.1" >β1-Het</text>
<rect x="231.70" y="298.40" width="4.10" height="4.10" fill="url(#pChkCL)" stroke="#222" stroke-width="0.5"/>
<text x="237.10" y="303.00" font-size="7.3" text-anchor="start" fill="#3a3a3a" textLength="24.30" lengthAdjust="spacingAndGlyphs" stroke="#3a3a3a" stroke-width="0.1" >β1-Hom</text>
<rect x="266.20" y="298.40" width="4.10" height="4.10" fill="#777" stroke="#666" stroke-width="0.5"/>
<text x="271.30" y="303.00" font-size="7.3" text-anchor="start" fill="#3a3a3a" textLength="21.00" lengthAdjust="spacingAndGlyphs" stroke="#3a3a3a" stroke-width="0.1" >β2-het</text>
<rect x="297.20" y="298.40" width="4.10" height="4.10" fill="#fff" stroke="#222" stroke-width="0.5"/>
<text x="302.30" y="303.00" font-size="7.3" text-anchor="start" fill="#3a3a3a" textLength="23.70" lengthAdjust="spacingAndGlyphs" stroke="#3a3a3a" stroke-width="0.1" >β2-Hom</text>
</svg>
</body></html>
